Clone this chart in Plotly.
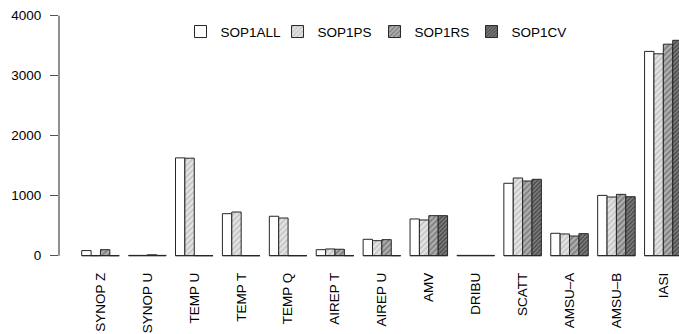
import plotly.graph_objects as go

categories = ["SYNOP Z", "SYNOP U", "TEMP U", "TEMP T", "TEMP Q", "AIREP T",
              "AIREP U", "AMV", "DRIBU", "SCATT", "AMSU–A", "AMSU–B", "IASI"]
series_names = ["SOP1ALL", "SOP1PS", "SOP1RS", "SOP1CV"]
sop1all = [85, 5, 1630, 700, 657, 100, 273, 612, 5, 1207, 373, 1005, 3405]
sop1ps = [0, 5, 1625, 728, 628, 112, 250, 595, 5, 1295, 362, 978, 3365]
sop1rs = [100, 15, 0, 0, 0, 107, 267, 667, 5, 1245, 328, 1022, 3525]
sop1cv = [0, 5, 0, 0, 0, 0, 0, 667, 5, 1273, 367, 983, 3590]
y_ticks = [0, 1000, 2000, 3000, 4000]

series = [sop1all, sop1ps, sop1rs, sop1cv]
styles = [
    dict(color="white", pattern=None),
    dict(color="#dcdcdc", pattern=dict(shape="/", fgcolor="#a0a0a0", bgcolor="#e4e4e4", size=4, solidity=0.4)),
    dict(color="#a0a0a0", pattern=dict(shape="/", fgcolor="#4a4a4a", bgcolor="#b0b0b0", size=4, solidity=0.45)),
    dict(color="#606060", pattern=dict(shape="/", fgcolor="#151515", bgcolor="#808080", size=3, solidity=0.5)),
]

FONT = "Liberation Sans, Arial, Helvetica, sans-serif"
GROUP = 5  # 4 bars + 1 gap (units)
centers = [GROUP * i for i in range(len(categories))]

fig = go.Figure()
for k, (name, vals, st) in enumerate(zip(series_names, series, styles)):
    marker = dict(color=st["color"], line=dict(color="#262626", width=1))
    if st["pattern"] is not None:
        marker["pattern"] = st["pattern"]
    fig.add_trace(go.Bar(
        x=[c + (k - 1.5) for c in centers], y=vals, width=1, name=name,
        marker=marker,
    ))

# baseline segments under each group (zero-height bars in the original)
bx, by = [], []
for c in centers:
    bx += [c - 2, c + 2, None]
    by += [0, 0, None]
fig.add_trace(go.Scatter(x=bx, y=by, mode="lines", line=dict(color="#262626", width=1),
                         showlegend=False, hoverinfo="skip"))

fig.add_shape(type="line", xref="paper", x0=0, x1=0, yref="y", y0=y_ticks[0], y1=y_ticks[-1],
              line=dict(color="#555555", width=1.3))

fig.update_layout(
    width=679, height=334,
    margin=dict(l=59, r=0, t=10, b=68),
    paper_bgcolor="white", plot_bgcolor="white",
    barmode="overlay",
    font=dict(family=FONT, size=13.5, color="black"),
    showlegend=True,
    legend=dict(orientation="h", x=0.196, xanchor="left", y=0.915, yanchor="middle",
                font=dict(family=FONT, size=13.5), bgcolor="rgba(0,0,0,0)",
                traceorder="normal", entrywidth=52, entrywidthmode="pixels"),
    xaxis=dict(range=[-4.42, 61.67], tickmode="array", tickvals=centers, ticktext=categories,
               tickangle=-90, showgrid=False, zeroline=False, showline=False, ticks="",
               ticklabelstandoff=3, automargin=False, fixedrange=True),
    yaxis=dict(range=[-172, 4095], tickmode="array", tickvals=y_ticks,
               showgrid=False, zeroline=False, showline=False, ticks="outside", ticklen=8,
               tickcolor="#555555", tickwidth=1.3, ticklabelstandoff=6, automargin=False,
               ticklabeloverflow="allow"),
)

fig.write_html("out.html", config={"displayModeBar": False},
               post_script="document.body.style.margin='0';document.body.style.overflow='hidden';")
